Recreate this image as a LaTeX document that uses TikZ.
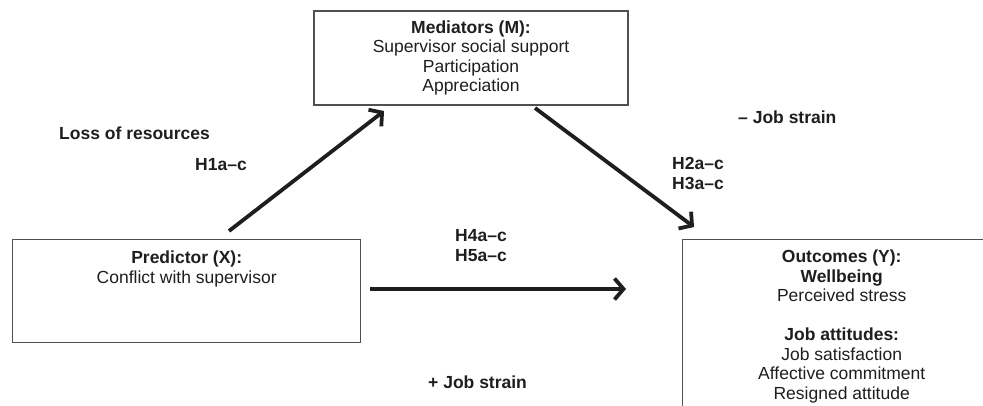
\documentclass[tikz,border=0pt]{standalone}
\usepackage{fontspec}
\setmainfont{Liberation Sans}
\usepackage{xcolor}
\usepackage{tikz}
\usetikzlibrary{arrows.meta, positioning}
\definecolor{ink}{RGB}{30, 30, 30}
\definecolor{frame}{RGB}{80, 80, 80}

\begin{document}
\begin{tikzpicture}[
    x=1pt, y=-1pt,
    font=\fontsize{17.5}{19.5}\selectfont,
    box/.style={rectangle, draw=frame, line width=1.4pt, inner sep=0pt},
    boxtext/.style={align=center, inner sep=0pt, text=ink},
    tag/.style={font=\fontsize{17.5}{19.5}\selectfont\bfseries, text=ink, inner sep=0pt},
    line/.style={draw=ink, line width=3.8pt, -{Straight Barb[length=9pt, width=21pt]}}
]
    \clip (0,0) rectangle (983,406);

    % Nodes
    \node [box, boxtext, minimum width=314pt, minimum height=94pt] (med) at (471,58) {\textbf{Mediators (M):}\\Supervisor social support\\Participation\\Appreciation};
    \node [box, minimum width=348pt, minimum height=103pt, anchor=north west] (pred) at (12,239) {};
    \node [boxtext, below=12pt of pred.north] (predtext) {\textbf{Predictor (X):}\\Conflict with supervisor};
    \node [box, minimum width=318pt, minimum height=185pt, anchor=north west] (out) at (682,239) {};
    \node [boxtext, below=11pt of out.north] (outtext) {\textbf{Outcomes (Y):}\\\textbf{Wellbeing}\\Perceived stress\\[19.5pt]\textbf{Job attitudes:}\\Job satisfaction\\Affective commitment\\Resigned attitude};

    % Labels
    \node [tag, anchor=west] (loss) at (59,133) {Loss of resources};
    \node [tag, anchor=west] (h1) at (195,165) {H1a--c};
    \node [tag, anchor=west] (minus) at (738,117) {-- Job strain};
    \node [tag, anchor=west, align=left] (h23) at (672,173.5) {H2a--c\\H3a--c};
    \node [tag, align=center] (h45) at (481,245.5) {H4a--c\\H5a--c};
    \node [tag, anchor=west] (plus) at (428,382) {+ Job strain};

    % Arrow ends
    \coordinate (h1s) at (229,231);
    \coordinate (h1e) at (384,111);
    \coordinate (h2s) at (535,108);
    \coordinate (h2e) at (694,227);
    \coordinate (h4s) at (370,289);
    \coordinate (h4e) at (626,289);

    % Paths
    \path [line] (h1s) -- (h1e);
    \path [line] (h2s) -- (h2e);
    \path [line] (h4s) -- (h4e);

\end{tikzpicture}
\end{document}
